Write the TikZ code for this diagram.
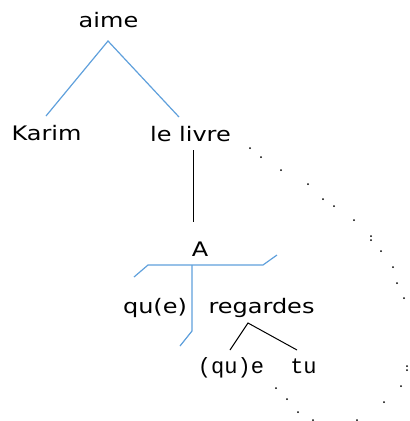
\documentclass[tikz,border=0pt]{standalone}
\usepackage{fontspec}
\newfontfamily\wordfont[FakeStretch=1.2]{DejaVu Sans}
\newfontfamily\leaffont{Liberation Mono}
\definecolor{treeblue}{RGB}{95,160,220}
\begin{document}
\begin{tikzpicture}[x=1pt,y=-1pt,
  word/.style={anchor=base,inner sep=0pt,font=\wordfont\fontsize{20}{24}\selectfont},
  leaf/.style={anchor=base,inner sep=0pt,font=\leaffont\fontsize{22}{26}\selectfont},
  blueedge/.style={draw=treeblue,line width=1.2pt},
  blackedge/.style={draw=black,line width=1pt},
  dotmark/.style={fill=black,draw=none}]
\useasboundingbox (0,0) rectangle (410,421);

% words
\node[word] (aime) at (108.5,27) {aime};
\node[word] (karim) at (46.5,140) {Karim};
\node[word] (livre) at (190.5,141) {le livre};
\node[word] (A) at (200,256) {A};
\node[word] (que) at (155,313) {qu(e)};
\node[word] (regardes) at (261.5,313) {regardes};
\node[leaf] (quee) at (231,373) {(qu)e};
\node[leaf] (tu) at (303.5,373) {tu};

% branch points
\coordinate (aimeB) at (108,41);
\coordinate (karimT) at (46,116);
\coordinate (livreT) at (179,117);
\coordinate (livreB) at (193,150);
\coordinate (AT) at (193,222);
\coordinate (barL0) at (134,277);
\coordinate (barL) at (148,265);
\coordinate (barR) at (263,265);
\coordinate (barR0) at (277,255);
\coordinate (barM) at (192,265);
\coordinate (stemB) at (192,331);
\coordinate (stemB0) at (180,346);
\coordinate (regB) at (248,323);
\coordinate (queeT) at (230,350);
\coordinate (tuT) at (297,350);

% edges
\draw[blueedge] (karimT) -- (aimeB) -- (livreT);
\draw[blackedge] (livreB) -- (AT);
\draw[blueedge] (barL0) -- (barL) -- (barR) -- (barR0);
\draw[blueedge] (barM) -- (stemB) -- (stemB0);
\draw[blackedge] (queeT) -- (regB) -- (tuT);

% dotted trail
\foreach \p in {(250,148),(261,157),(281,170),(308,184),(323,199),(334,206),
  (354,220),(371,236),(371,240),(381,251),(393,267),(397,283),(404,298),
  (407,366),(407,370),(401,386),(384,402),(357,420),(313,420),(298,412),
  (287,399),(276,388)}
  \fill[dotmark] \p circle (1pt);
\end{tikzpicture}
\end{document}
